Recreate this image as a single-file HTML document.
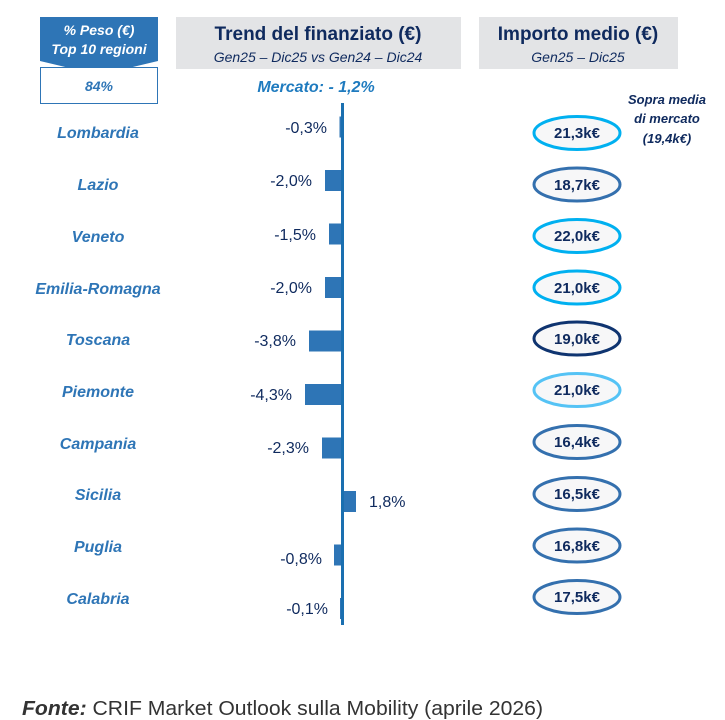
<!DOCTYPE html>
<html><head><meta charset="utf-8"><style>
body{margin:0;background:#fff;}
svg{display:block;font-family:"Liberation Sans",sans-serif;}
</style></head><body>
<svg width="725" height="720" viewBox="0 0 725 720">
<path d="M40 17 H158 V61 L99 75 L40 61 Z" fill="#2e75b6"/>
<text x="99" y="35" fill="#fff" font-size="14" font-weight="bold" font-style="italic" text-anchor="middle">% Peso (€)</text>
<text x="99" y="54" fill="#fff" font-size="14" font-weight="bold" font-style="italic" text-anchor="middle">Top 10 regioni</text>
<rect x="40.5" y="67.5" width="117" height="36" fill="#fff" stroke="#2e75b6" stroke-width="1"/>
<text x="99" y="91" fill="#2e75b6" font-size="14" font-weight="bold" font-style="italic" text-anchor="middle">84%</text>
<rect x="176" y="17" width="285" height="52" fill="#e3e4e6"/>
<text x="318" y="40" fill="#0f2a5e" font-size="19" font-weight="bold" text-anchor="middle">Trend del finanziato (€)</text>
<text x="318" y="62" fill="#0f2a5e" font-size="14" font-style="italic" text-anchor="middle">Gen25 – Dic25 vs Gen24 – Dic24</text>
<text x="316" y="92" fill="#1f7bbf" font-size="16" font-weight="bold" font-style="italic" text-anchor="middle">Mercato: - 1,2%</text>
<rect x="479" y="17" width="199" height="52" fill="#e3e4e6"/>
<text x="578" y="40" fill="#0f2a5e" font-size="19" font-weight="bold" text-anchor="middle">Importo medio (€)</text>
<text x="578" y="62" fill="#0f2a5e" font-size="14" font-style="italic" text-anchor="middle">Gen25 – Dic25</text>
<text x="667" y="104" fill="#0f2a5e" font-size="13" font-weight="bold" font-style="italic" text-anchor="middle">Sopra media</text>
<text x="667" y="123" fill="#0f2a5e" font-size="13" font-weight="bold" font-style="italic" text-anchor="middle">di mercato</text>
<text x="667" y="143" fill="#0f2a5e" font-size="13" font-weight="bold" font-style="italic" text-anchor="middle">(19,4k€)</text>
<g fill="#2e75b6" font-size="16" font-weight="bold" font-style="italic" text-anchor="middle">
<text x="98" y="138">Lombardia</text>
<text x="98" y="190">Lazio</text>
<text x="98" y="242">Veneto</text>
<text x="98" y="294">Emilia-Romagna</text>
<text x="98" y="345">Toscana</text>
<text x="98" y="397">Piemonte</text>
<text x="98" y="449">Campania</text>
<text x="98" y="500">Sicilia</text>
<text x="98" y="552">Puglia</text>
<text x="98" y="604">Calabria</text>
</g>
<g fill="#2e75b6">
<rect x="339.5" y="116.5" width="2.5" height="21"/>
<rect x="325" y="170" width="17" height="21"/>
<rect x="329" y="223.5" width="13" height="21"/>
<rect x="325" y="277" width="17" height="21"/>
<rect x="309" y="330.5" width="33" height="21"/>
<rect x="305" y="384" width="37" height="21"/>
<rect x="322" y="437.5" width="20" height="21"/>
<rect x="342" y="491" width="14" height="21"/>
<rect x="334" y="544.5" width="8" height="21"/>
<rect x="340" y="598" width="2" height="21"/>
</g>
<rect x="341" y="103" width="3" height="522" fill="#1a6fb0"/>
<g fill="#0f2a5e" font-size="16" text-anchor="end">
<text x="327" y="133">-0,3%</text>
<text x="312" y="186">-2,0%</text>
<text x="316" y="240">-1,5%</text>
<text x="312" y="293">-2,0%</text>
<text x="296" y="346">-3,8%</text>
<text x="292" y="400">-4,3%</text>
<text x="309" y="453">-2,3%</text>
<text x="322" y="564">-0,8%</text>
<text x="328" y="614">-0,1%</text>
</g>
<text x="369" y="507" fill="#0f2a5e" font-size="16">1,8%</text>
<g fill="#f7f7f8" stroke-width="3">
<ellipse cx="577" cy="133" rx="43" ry="16.5" stroke="#00b0f0"/>
<ellipse cx="577" cy="184.5" rx="43" ry="16.5" stroke="#3470ae"/>
<ellipse cx="577" cy="236" rx="43" ry="16.5" stroke="#00b0f0"/>
<ellipse cx="577" cy="287.5" rx="43" ry="16.5" stroke="#00b0f0"/>
<ellipse cx="577" cy="338.5" rx="43" ry="16.5" stroke="#0f3470"/>
<ellipse cx="577" cy="390" rx="43" ry="16.5" stroke="#55c3f5"/>
<ellipse cx="577" cy="442" rx="43" ry="16.5" stroke="#3470ae"/>
<ellipse cx="577" cy="494" rx="43" ry="16.5" stroke="#3470ae"/>
<ellipse cx="577" cy="545.5" rx="43" ry="16.5" stroke="#3470ae"/>
<ellipse cx="577" cy="597" rx="43" ry="16.5" stroke="#3470ae"/>
</g>
<g fill="#0f2a5e" font-size="15" font-weight="bold" text-anchor="middle">
<text x="577" y="138">21,3k€</text>
<text x="577" y="190">18,7k€</text>
<text x="577" y="241">22,0k€</text>
<text x="577" y="293">21,0k€</text>
<text x="577" y="344">19,0k€</text>
<text x="577" y="395">21,0k€</text>
<text x="577" y="447">16,4k€</text>
<text x="577" y="499">16,5k€</text>
<text x="577" y="551">16,8k€</text>
<text x="577" y="602">17,5k€</text>
</g>
<text x="22" y="715" fill="#333" font-size="20" textLength="521" lengthAdjust="spacingAndGlyphs"><tspan font-weight="bold" font-style="italic">Fonte:</tspan> CRIF Market Outlook sulla Mobility (aprile 2026)</text>
</svg>
</body></html>
